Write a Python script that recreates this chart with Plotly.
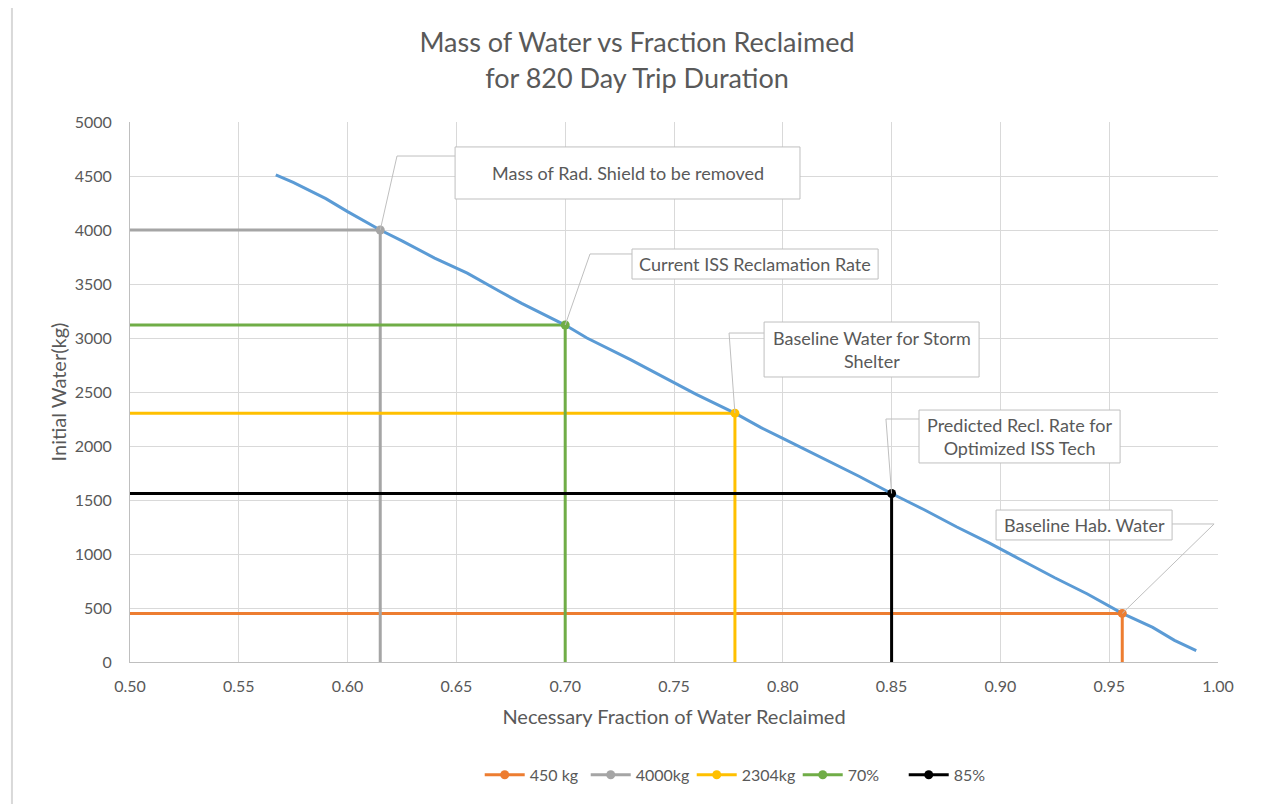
import plotly.graph_objects as go

# ---- data ----
curve_fraction = [0.567, 0.575, 0.59, 0.60, 0.615, 0.625, 0.64, 0.655, 0.67, 0.68, 0.70, 0.71,
                  0.73, 0.745, 0.76, 0.778, 0.79, 0.80, 0.82, 0.835, 0.85, 0.865, 0.88, 0.895,
                  0.91, 0.925, 0.94, 0.956, 0.97, 0.98, 0.99]
curve_water = [4510, 4440, 4290, 4170, 4000, 3900, 3740, 3600, 3430, 3320, 3120, 3000,
               2800, 2640, 2480, 2304, 2170, 2070, 1870, 1720, 1560, 1410, 1250, 1100,
               940, 780, 630, 450, 320, 200, 105]

ref_names = ["450 kg", "4000kg", "2304kg", "70%", "85%"]
ref_fraction = [0.956, 0.615, 0.778, 0.70, 0.85]
ref_water = [450, 4000, 2304, 3120, 1560]
ref_colors = ["#ED7D31", "#A5A5A5", "#FFC000", "#70AD47", "#000000"]

x_start = 0.50
x_ticks = [0.50, 0.55, 0.60, 0.65, 0.70, 0.75, 0.80, 0.85, 0.90, 0.95, 1.00]
y_ticks = [0, 500, 1000, 1500, 2000, 2500, 3000, 3500, 4000, 4500, 5000]

# callouts: text, box (x0, x1, y0, y1), leader bend point (x, y), index of ref point
callout_texts = ["Mass of Rad. Shield to be removed",
                 "Current ISS Reclamation Rate",
                 "Baseline Water for Storm<br>Shelter",
                 "Predicted Recl. Rate for<br>Optimized ISS Tech",
                 "Baseline Hab. Water"]
callout_boxes = [(0.6494, 0.8079, 4287, 4769),
                 (0.7307, 0.8438, 3546, 3824),
                 (0.7914, 0.8902, 2639, 3148),
                 (0.8626, 0.9550, 1843, 2333),
                 (0.8980, 0.9789, 1130, 1407)]
callout_bends = [(0.6227, 4685), (0.7114, 3778), (0.7753, 3046), (0.8474, 2250), (0.9982, 1278)]
callout_ends = [(0.6494, 4685), (0.7307, 3778), (0.7914, 3046), (0.8626, 2250), (0.9789, 1278)]
callout_ref = [1, 3, 2, 4, 0]

FONT = "Lato"
TXT = "#595959"

fig = go.Figure()

# reference lines (no legend)
for name, fx, wy, col in zip(ref_names, ref_fraction, ref_water, ref_colors):
    fig.add_trace(go.Scatter(x=[x_start, fx, fx], y=[wy, wy, 0], mode="lines",
                             line=dict(color=col, width=3), showlegend=False,
                             legendgroup=name, hoverinfo="skip"))

# main curve
fig.add_trace(go.Scatter(x=curve_fraction, y=curve_water, mode="lines",
                         line=dict(color="#5B9BD5", width=3), showlegend=False))

# corner markers (legend entries)
for name, fx, wy, col in zip(ref_names, ref_fraction, ref_water, ref_colors):
    fig.add_trace(go.Scatter(x=[fx], y=[wy], mode="lines+markers", name=name,
                             line=dict(color=col, width=3),
                             marker=dict(color=col, size=9), legendgroup=name))

shapes = []
annotations = []
for txt, box, bend, end, ri in zip(callout_texts, callout_boxes, callout_bends, callout_ends, callout_ref):
    x0, x1, y0, y1 = box
    shapes.append(dict(type="rect", xref="x", yref="y", x0=x0, x1=x1, y0=y0, y1=y1,
                       line=dict(color="#BFBFBF", width=1), fillcolor="white", layer="above"))
    px, py = ref_fraction[ri], ref_water[ri]
    shapes.append(dict(type="path", xref="x", yref="y",
                       path=f"M {px},{py} L {bend[0]},{bend[1]} L {end[0]},{end[1]}",
                       line=dict(color="#BFBFBF", width=1), layer="above"))
    annotations.append(dict(x=(x0 + x1) / 2, y=(y0 + y1) / 2, xref="x", yref="y",
                            text=txt, showarrow=False,
                            font=dict(family=FONT, size=18, color=TXT), align="center"))

# outer chart border
shapes.append(dict(type="rect", xref="paper", yref="paper", x0=-0.1085, x1=1.0377, y0=-0.35, y1=1.2185,
                   line=dict(color="#D9D9D9", width=2), fillcolor="rgba(0,0,0,0)", layer="below"))

fig.update_layout(
    width=1253, height=796,
    margin=dict(l=122, r=43, t=114, b=142),
    paper_bgcolor="white", plot_bgcolor="white",
    font=dict(family=FONT, color=TXT),
    title=dict(text="Mass of Water vs Fraction Reclaimed<br>for 820 Day Trip Duration",
               x=0.502, xanchor="center", y=0.9441, yanchor="middle",
               font=dict(family=FONT, size=27, color=TXT)),
    xaxis=dict(range=[0.5, 1.0], tickvals=x_ticks, tickformat=".2f",
               showgrid=True, gridcolor="#D9D9D9", gridwidth=1,
               showline=True, linecolor="#BFBFBF", linewidth=1, mirror=False,
               zeroline=False, ticks="", ticklabelstandoff=10,
               tickfont=dict(family=FONT, size=16, color=TXT),
               title=dict(text="Necessary Fraction of Water Reclaimed",
                          font=dict(family=FONT, size=20, color=TXT), standoff=15)),
    yaxis=dict(range=[0, 5000], tickvals=y_ticks,
               showgrid=True, gridcolor="#D9D9D9", gridwidth=1,
               showline=True, linecolor="#BFBFBF", linewidth=1,
               zeroline=False, ticks="", ticklabelstandoff=14,
               tickfont=dict(family=FONT, size=16, color=TXT),
               title=dict(text="Initial Water(kg)",
                          font=dict(family=FONT, size=20, color=TXT), standoff=2)),
    legend=dict(orientation="h", x=0.565, xanchor="center", y=-0.209, yanchor="middle",
                font=dict(family=FONT, size=16, color=TXT), bgcolor="rgba(0,0,0,0)",
                itemwidth=40, tracegroupgap=0, entrywidth=51, entrywidthmode="pixels"),
    shapes=shapes, annotations=annotations,
    showlegend=True,
)

fig.write_html("out.html")
